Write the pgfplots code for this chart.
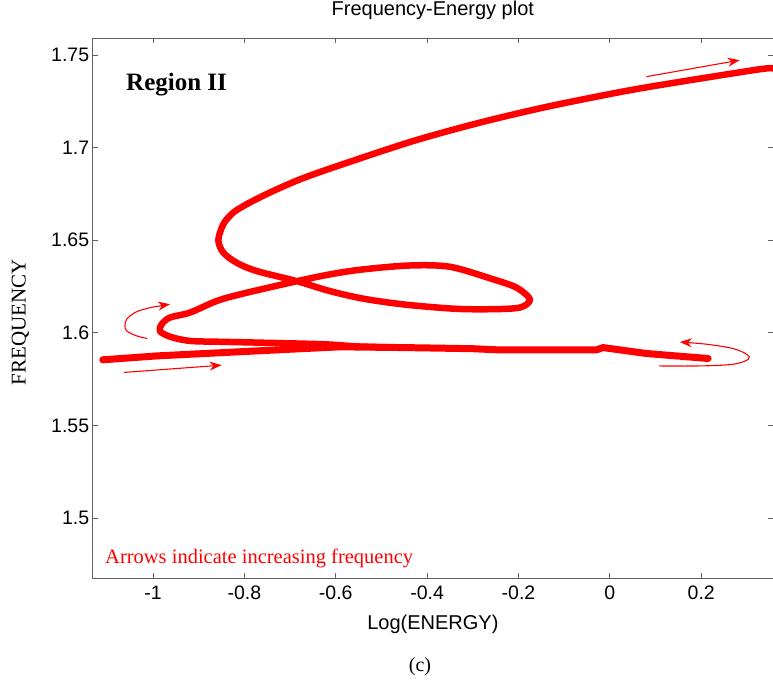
\documentclass[border=0pt]{standalone}
\usepackage{fontspec}
\setmainfont{Liberation Serif}
\setsansfont{Liberation Sans}
\usepackage{pgfplots}
\pgfplotsset{compat=1.18}
\usetikzlibrary{arrows.meta}

\begin{document}
\begin{tikzpicture}
\begin{axis}[
  at={(0,0)}, anchor=south west,
  scale only axis, width=680.3pt, height=540pt,
  xmin=-1.132, xmax=0.357, ymin=1.4676, ymax=1.759,
  xtick={-1,-0.8,-0.6,-0.4,-0.2,0,0.2},
  xticklabels={-1,-0.8,-0.6,-0.4,-0.2,0,0.2},
  ytick={1.5,1.55,1.6,1.65,1.7,1.75},
  yticklabels={1.5,1.55,1.6,1.65,1.7,1.75},
  tick align=inside, major tick length=5pt,
  axis line style={black!62, line width=0.9pt},
  tick style={black!62, line width=0.9pt},
  tick label style={font=\sffamily\fontsize{19.5}{22}\selectfont, black},
  xticklabel style={yshift=-4pt},
  title={Frequency-Energy plot},
  title style={font=\sffamily\fontsize{20}{22}\selectfont, at={(axis description cs:0.5,1.0307)}, anchor=base},
  xlabel={Log(ENERGY)},
  xlabel style={font=\sffamily\fontsize{20}{22}\selectfont, at={(axis description cs:0.5,-0.0957)}, anchor=base},
  ylabel={FREQUENCY},
  ylabel style={font=\rmfamily\fontsize{21}{23}\selectfont, at={(axis description cs:-0.1064,0.4746)}, anchor=center},
  clip=true,
]
% outgoing lower branch
\addplot[red, line width=7pt, line join=round, line cap=round] coordinates {
(-1.110,1.5855) (-0.992,1.5876) (-0.846,1.5894) (-0.700,1.5912) (-0.591,1.5925)
(-0.450,1.5921) (-0.300,1.5915) (-0.240,1.5908) (-0.030,1.5908) (-0.015,1.5921)
(0.080,1.5889) (0.215,1.5862)
};
% returning branch with loops
\addplot[red, line width=6.5pt, line join=round, line cap=round, smooth, tension=0.5] coordinates {
(-0.450,1.5921) (-0.550,1.5927)
(-0.627,1.5939) (-0.773,1.5948) (-0.846,1.5952) (-0.919,1.5957) (-0.963,1.5980)
(-0.985,1.6010) (-0.981,1.6047) (-0.963,1.6083) (-0.919,1.6110) (-0.861,1.6172)
(-0.810,1.6208) (-0.700,1.6271) (-0.613,1.6316) (-0.540,1.6343) (-0.438,1.6364)
(-0.350,1.6357) (-0.255,1.6289) (-0.204,1.6244) (-0.175,1.6181) (-0.197,1.6137)
(-0.263,1.6128) (-0.343,1.6131) (-0.452,1.6154) (-0.540,1.6185) (-0.613,1.6226)
(-0.686,1.6280) (-0.773,1.6334) (-0.817,1.6379) (-0.846,1.6433) (-0.857,1.6500)
(-0.846,1.6587) (-0.824,1.6650) (-0.788,1.6704) (-0.737,1.6766) (-0.678,1.6829)
(-0.6055,1.6893) (-0.4339,1.7033) (-0.2845,1.7135) (-0.1385,1.7220)
(0.0291,1.7303) (0.1532,1.7355) (0.3282,1.7423) (0.357,1.7427)
};
% annotation arrows
\draw[red, line width=1.1pt, -{Stealth[length=12pt,width=9pt]}] (axis cs:0.080,1.7383) -- (axis cs:0.284,1.7472);
\draw[red, line width=1.1pt, -{Stealth[length=12pt,width=9pt]}] (axis cs:-1.063,1.5787) -- (axis cs:-0.850,1.5826);
\draw[red, line width=1.1pt, -{Stealth[length=12pt,width=9pt]}] plot[smooth, tension=0.6] coordinates {
(axis cs:-1.0125,1.5970) (axis cs:-1.0357,1.5984) (axis cs:-1.0575,1.6011) (axis cs:-1.0613,1.6038)
(axis cs:-1.0575,1.6074) (axis cs:-1.0394,1.6110) (axis cs:-1.0138,1.6132) (axis cs:-0.9847,1.6146) (axis cs:-0.9628,1.6155)};
\draw[red, line width=1.1pt, -{Stealth[length=12pt,width=9pt]}] plot[smooth, tension=0.6] coordinates {
(axis cs:0.108,1.5822) (axis cs:0.197,1.5822) (axis cs:0.269,1.5831) (axis cs:0.303,1.5858)
(axis cs:0.299,1.5885) (axis cs:0.269,1.5916) (axis cs:0.212,1.5939) (axis cs:0.153,1.5951)};
\node[anchor=base west, font=\rmfamily\bfseries\fontsize{25}{27}\selectfont] at (axis description cs:0.0441,0.903) {Region II};
\node[anchor=base west, text=red, font=\rmfamily\fontsize{20.5}{23}\selectfont] at (axis description cs:0.0132,0.0265) {Arrows indicate increasing frequency};
\end{axis}
\node[anchor=base, font=\rmfamily\fontsize{20}{22}\selectfont] at (327.3pt,-93.1pt) {(c)};
\pgfresetboundingbox
\useasboundingbox (-92.7pt,-105.7pt) rectangle (680.3pt,578.3pt);
\end{tikzpicture}
\end{document}
